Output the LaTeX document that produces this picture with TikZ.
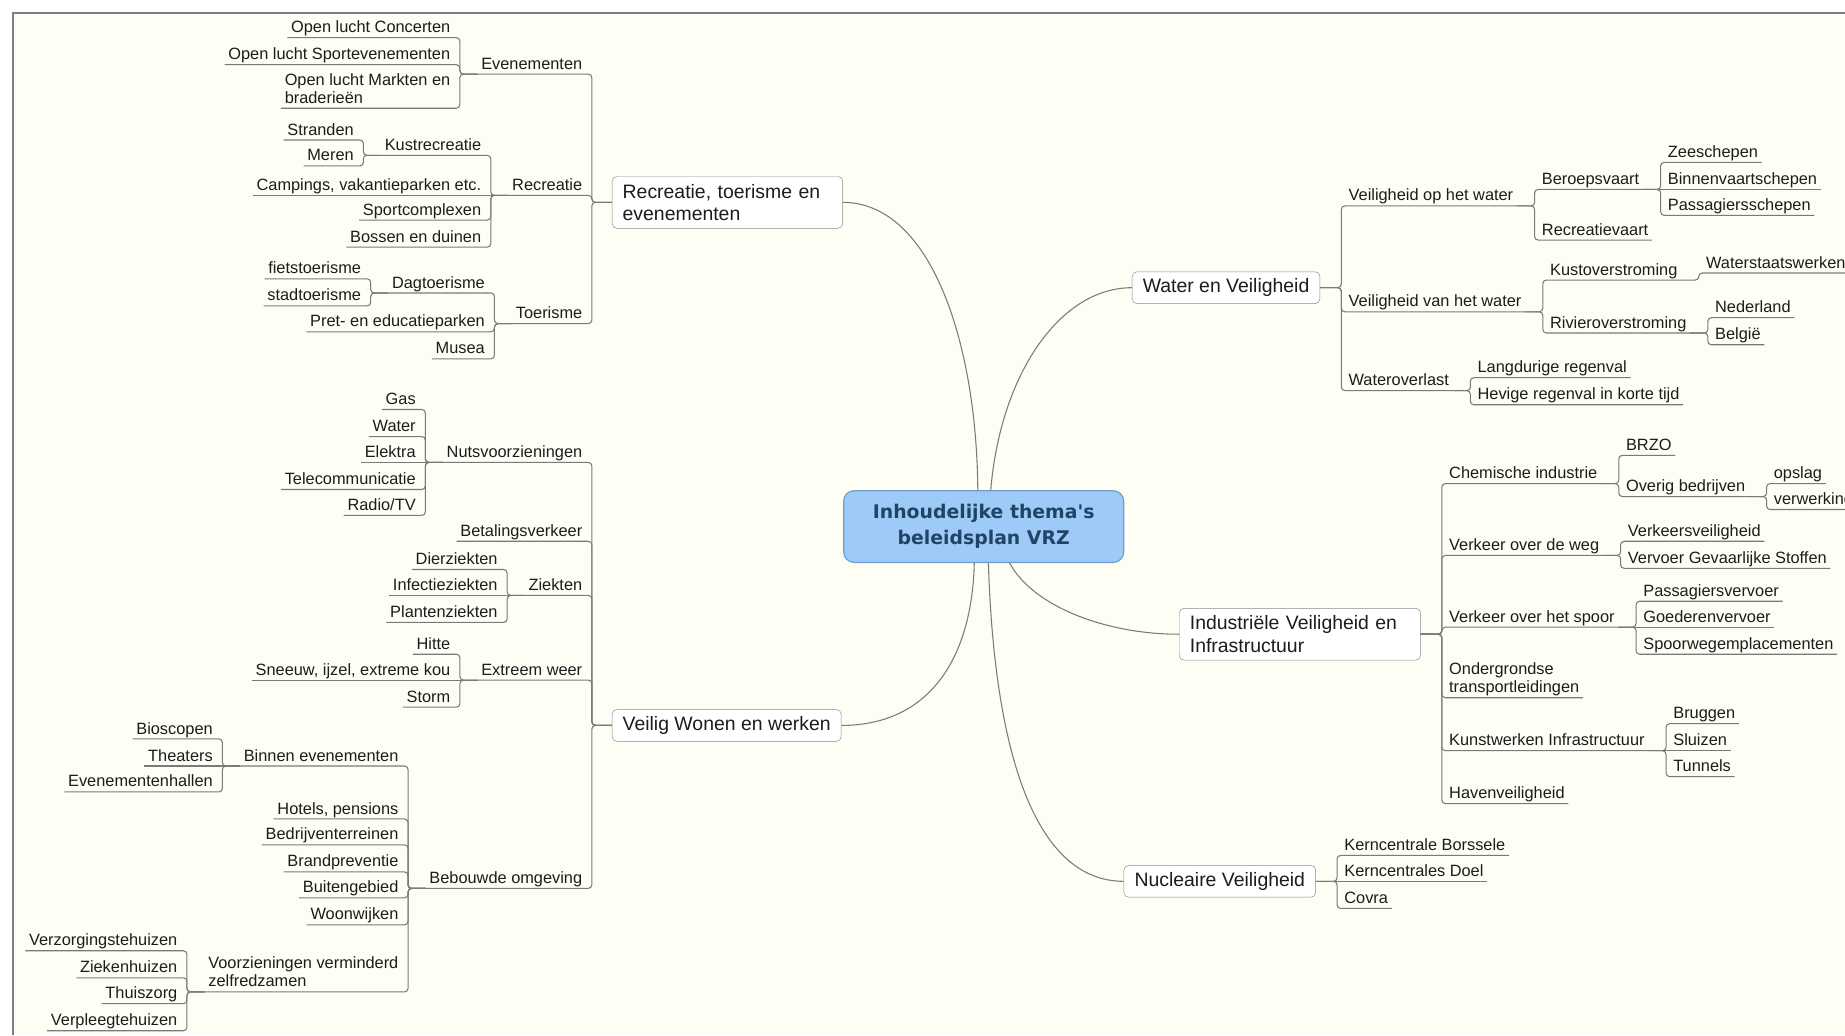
\documentclass[tikz,border=0pt]{standalone}
\usepackage{fontspec}
\setmainfont{Liberation Sans}
\newfontfamily\centrefont{DejaVu Sans}

\definecolor{paper}{HTML}{FEFEF5}
\definecolor{framecol}{HTML}{808080}
\definecolor{linkcol}{HTML}{7A7A7A}
\definecolor{inkcol}{HTML}{1C1C1C}
\definecolor{boxline}{HTML}{8A8A8A}
\definecolor{rootfill}{HTML}{9DCAF6}
\definecolor{rootline}{HTML}{6E9ED0}
\definecolor{rootink}{HTML}{1F4466}

\newcommand\leafsize{\fontsize{13.9}{15.5}\selectfont}
\newcommand\branchsize{\fontsize{16.5}{19}\selectfont}
\newcommand\rootsize{\centrefont\bfseries\fontsize{16}{22}\selectfont}
\newcommand\lastline{\rule[-3pt]{0pt}{3pt}}

\begin{document}
\begin{tikzpicture}[x=1pt,y=-1pt,
  link/.style={draw=linkcol,line width=0.9pt},
  every edge/.style={link,rounded corners=3pt},
  topic/.style={font=\leafsize,text=inkcol,inner xsep=3pt,inner ysep=1pt,text depth=3pt},
  twoline/.style={font=\leafsize,text=inkcol,inner xsep=3pt,inner ysep=1pt,align=left},
  branch/.style={draw=boxline,fill=white,rounded corners=4pt,font=\branchsize,text=inkcol,inner xsep=9pt,inner ysep=4.5pt,minimum height=27pt,align=left},
  root/.style={draw=rootline,fill=rootfill,line width=1pt,rounded corners=9pt,font=\rootsize,text=rootink,minimum width=238pt,minimum height=61pt,align=center},
  lroot/.style={to path={(\tikztostart.west) -- ++(-17pt,0pt) |- (\tikztotarget.south west)}},
  rroot/.style={to path={(\tikztostart.east) -- ++(18pt,0pt) |- (\tikztotarget.south east)}},
  lkid/.style={to path={(\tikztostart.south west) -- ++(-15pt,0pt) |- (\tikztotarget.south west)}},
  rkid/.style={to path={(\tikztostart.south east) -- ++(15pt,0pt) |- (\tikztotarget.south east)}},
  flat/.style={to path={(\tikztostart) -- (\tikztotarget)}}]

\useasboundingbox (0,0) rectangle (1568,880);
\fill[white] (0,0) rectangle (1568,880);
\fill[paper] (11,11) rectangle (1568,880);
\draw[framecol,line width=1.3pt] (11,880) -- (11,11) -- (1568,11);

\node[root] (vrz) at (836,447.5) {Inhoudelijke thema's\\beleidsplan VRZ};

% recreatie
\node[branch,text width=178pt,minimum height=44pt,anchor=west] (recr) at (520,172) {Recreatie, toerisme en\\evenementen};
\node[topic,anchor=south east] (evnm) at ([xshift=-22pt]recr.west |- 0,63) {Evenementen};
\node[topic,anchor=south east] (rcr) at ([xshift=-22pt]recr.west |- 0,166) {Recreatie};
\node[topic,anchor=south east] (trsm) at ([xshift=-22pt]recr.west |- 0,275) {Toerisme};

\node[topic,anchor=south east] (conc) at ([xshift=-20pt]evnm.south west |- 0,32) {Open lucht Concerten};
\node[topic,anchor=south east] (sprt) at ([xshift=-20pt]evnm.south west |- 0,55) {Open lucht Sportevenementen};
\node[twoline,anchor=south east] (mrkt) at ([xshift=-20pt]evnm.south west |- 0,92) {Open lucht Markten en\\braderieën\lastline};

\node[topic,anchor=south east] (kust) at ([xshift=-20pt]rcr.south west |- 0,132) {Kustrecreatie};
\node[topic,anchor=south east] (camp) at ([xshift=-20pt]rcr.south west) {Campings, vakantieparken etc.};
\node[topic,anchor=south east] (spcx) at ([xshift=-20pt]rcr.south west |- 0,187) {Sportcomplexen};
\node[topic,anchor=south east] (bosn) at ([xshift=-20pt]rcr.south west |- 0,210) {Bossen en duinen};
\node[topic,anchor=south east] (strn) at ([xshift=-20pt]kust.south west |- 0,119) {Stranden};
\node[topic,anchor=south east] (mern) at ([xshift=-20pt]kust.south west |- 0,141) {Meren};

\node[topic,anchor=south east] (dagt) at ([xshift=-20pt]trsm.south west |- 0,249) {Dagtoerisme};
\node[topic,anchor=south east] (pret) at ([xshift=-20pt]trsm.south west |- 0,282) {Pret- en educatieparken};
\node[topic,anchor=south east] (musa) at ([xshift=-20pt]trsm.south west |- 0,305) {Musea};
\node[topic,anchor=south east] (fiet) at ([xshift=-20pt]dagt.south west |- 0,237) {fietstoerisme};
\node[topic,anchor=south east] (stad) at ([xshift=-20pt]dagt.south west |- 0,260) {stadtoerisme};

% wonen en werken
\node[branch,anchor=west] (wonen) at (520,616.5) {Veilig Wonen en werken};
\node[topic,anchor=south east] (nuts) at ([xshift=-22pt]wonen.west |- 0,393) {Nutsvoorzieningen};
\node[topic,anchor=south east] (beta) at ([xshift=-22pt]wonen.west |- 0,460) {Betalingsverkeer};
\node[topic,anchor=south east] (ziek) at ([xshift=-22pt]wonen.west |- 0,506) {Ziekten};
\node[topic,anchor=south east] (weer) at ([xshift=-22pt]wonen.west |- 0,578) {Extreem weer};
\node[topic,anchor=south east] (bebo) at ([xshift=-22pt]wonen.west |- 0,755) {Bebouwde omgeving};

\node[topic,anchor=south east] (gas) at ([xshift=-20pt]nuts.south west |- 0,348) {Gas};
\node[topic,anchor=south east] (wtr) at ([xshift=-20pt]nuts.south west |- 0,371) {Water};
\node[topic,anchor=south east] (elek) at ([xshift=-20pt]nuts.south west) {Elektra};
\node[topic,anchor=south east] (tele) at ([xshift=-20pt]nuts.south west |- 0,416) {Telecommunicatie};
\node[topic,anchor=south east] (radio) at ([xshift=-20pt]nuts.south west |- 0,438) {Radio/TV};

\node[topic,anchor=south east] (dier) at ([xshift=-20pt]ziek.south west |- 0,484) {Dierziekten};
\node[topic,anchor=south east] (infe) at ([xshift=-20pt]ziek.south west) {Infectieziekten};
\node[topic,anchor=south east] (plnt) at ([xshift=-20pt]ziek.south west |- 0,529) {Plantenziekten};

\node[topic,anchor=south east] (hitte) at ([xshift=-20pt]weer.south west |- 0,556) {Hitte};
\node[topic,anchor=south east] (snw) at ([xshift=-20pt]weer.south west) {Sneeuw, ijzel, extreme kou};
\node[topic,anchor=south east] (storm) at ([xshift=-20pt]weer.south west |- 0,601) {Storm};

\node[topic,anchor=south east] (binn) at ([xshift=-20pt]bebo.south west |- 0,651) {Binnen evenementen};
\node[topic,anchor=south east] (hotl) at ([xshift=-20pt]bebo.south west |- 0,696) {Hotels, pensions};
\node[topic,anchor=south east] (bedr) at ([xshift=-20pt]bebo.south west |- 0,718) {Bedrijventerreinen};
\node[topic,anchor=south east] (brnd) at ([xshift=-20pt]bebo.south west |- 0,741) {Brandpreventie};
\node[topic,anchor=south east] (buit) at ([xshift=-20pt]bebo.south west |- 0,763) {Buitengebied};
\node[topic,anchor=south east] (wijk) at ([xshift=-20pt]bebo.south west |- 0,786) {Woonwijken};
\node[twoline,anchor=south east] (zelf) at ([xshift=-20pt]bebo.south west |- 0,843) {Voorzieningen verminderd\\zelfredzamen\lastline};

\node[topic,anchor=south east] (bios) at ([xshift=-20pt]binn.south west |- 0,628) {Bioscopen};
\node[topic,anchor=south east] (thtr) at ([xshift=-20pt]binn.south west) {Theaters};
\node[topic,anchor=south east] (hall) at ([xshift=-20pt]binn.south west |- 0,673) {Evenementenhallen};

\node[topic,anchor=south east] (vzth) at ([xshift=-20pt]zelf.south west |- 0,808) {Verzorgingstehuizen};
\node[topic,anchor=south east] (zkhz) at ([xshift=-20pt]zelf.south west |- 0,831) {Ziekenhuizen};
\node[topic,anchor=south east] (thsz) at ([xshift=-20pt]zelf.south west |- 0,853) {Thuiszorg};
\node[topic,anchor=south east] (vpth) at ([xshift=-20pt]zelf.south west |- 0,876) {Verpleegtehuizen};

% water
\node[branch,anchor=west] (water) at (962,244.5) {Water en Veiligheid};
\node[topic,anchor=south west] (vopw) at ([xshift=21pt]water.east |- 0,175) {Veiligheid op het water};
\node[topic,anchor=south west] (vvhw) at ([xshift=21pt]water.east |- 0,265) {Veiligheid van het water};
\node[topic,anchor=south west] (wovl) at ([xshift=21pt]water.east |- 0,332) {Wateroverlast};

\node[topic,anchor=south west] (brps) at ([xshift=18pt]vopw.south east |- 0,161) {Beroepsvaart};
\node[topic,anchor=south west] (recv) at ([xshift=18pt]vopw.south east |- 0,204) {Recreatievaart};
\node[topic,anchor=south west] (zee) at ([xshift=18pt]brps.south east |- 0,138) {Zeeschepen};
\node[topic,anchor=south west] (binv) at ([xshift=18pt]brps.south east) {Binnenvaartschepen};
\node[topic,anchor=south west] (pasg) at ([xshift=18pt]brps.south east |- 0,183) {Passagiersschepen};

\node[topic,anchor=south west] (kovs) at ([xshift=18pt]vvhw.south east |- 0,238) {Kustoverstroming};
\node[topic,anchor=south west] (rovs) at ([xshift=18pt]vvhw.south east |- 0,283) {Rivieroverstroming};
\node[topic,anchor=south west] (wsw) at ([xshift=18pt]kovs.south east |- 0,232) {Waterstaatswerken};
\node[topic,anchor=south west] (nedl) at ([xshift=18pt]rovs.south east |- 0,270) {Nederland};
\node[topic,anchor=south west] (belg) at ([xshift=18pt]rovs.south east |- 0,293) {België};

\node[topic,anchor=south west] (lang) at ([xshift=18pt]wovl.south east |- 0,321) {Langdurige regenval};
\node[topic,anchor=south west] (hevg) at ([xshift=18pt]wovl.south east |- 0,344) {Hevige regenval in korte tijd};

% industrie
\node[branch,text width=187pt,minimum height=44pt,anchor=west] (ind) at (1002,539) {Industriële Veiligheid en\\Infrastructuur};
\node[topic,anchor=south west] (chem) at ([xshift=21pt]ind.east |- 0,411) {Chemische industrie};
\node[topic,anchor=south west] (vweg) at ([xshift=21pt]ind.east |- 0,472) {Verkeer over de weg};
\node[topic,anchor=south west] (vspr) at ([xshift=21pt]ind.east |- 0,533) {Verkeer over het spoor};
\node[twoline,anchor=south west] (ondg) at ([xshift=21pt]ind.east |- 0,593) {Ondergrondse\\transportleidingen\lastline};
\node[topic,anchor=south west] (kunst) at ([xshift=21pt]ind.east |- 0,638) {Kunstwerken Infrastructuur};
\node[topic,anchor=south west] (havn) at ([xshift=21pt]ind.east |- 0,683) {Havenveiligheid};

\node[topic,anchor=south west] (brzo) at ([xshift=18pt]chem.south east |- 0,387) {BRZO};
\node[topic,anchor=south west] (ovrg) at ([xshift=18pt]chem.south east |- 0,422) {Overig bedrijven};
\node[topic,anchor=south west] (opsl) at ([xshift=18pt]ovrg.south east |- 0,411) {opslag};
\node[topic,anchor=south west] (verw) at ([xshift=18pt]ovrg.south east |- 0,433) {verwerking};

\node[topic,anchor=south west] (vkvl) at ([xshift=18pt]vweg.south east |- 0,460) {Verkeersveiligheid};
\node[topic,anchor=south west] (vgs) at ([xshift=18pt]vweg.south east |- 0,483) {Vervoer Gevaarlijke Stoffen};

\node[topic,anchor=south west] (pasv) at ([xshift=18pt]vspr.south east |- 0,511) {Passagiersvervoer};
\node[topic,anchor=south west] (goed) at ([xshift=18pt]vspr.south east) {Goederenvervoer};
\node[topic,anchor=south west] (spor) at ([xshift=18pt]vspr.south east |- 0,556) {Spoorwegemplacementen};

\node[topic,anchor=south west] (brug) at ([xshift=18pt]kunst.south east |- 0,615) {Bruggen};
\node[topic,anchor=south west] (sluis) at ([xshift=18pt]kunst.south east) {Sluizen};
\node[topic,anchor=south west] (tunn) at ([xshift=18pt]kunst.south east |- 0,660) {Tunnels};

% nucleair
\node[branch,anchor=west] (nuc) at (955,749) {Nucleaire Veiligheid};
\node[topic,anchor=south west] (borss) at ([xshift=21pt]nuc.east |- 0,727) {Kerncentrale Borssele};
\node[topic,anchor=south west] (doel) at ([xshift=21pt]nuc.east) {Kerncentrales Doel};
\node[topic,anchor=south west] (covra) at ([xshift=21pt]nuc.east |- 0,772) {Covra};

\draw[link] ([xshift=-5pt]vrz.north) .. controls +(-1,-127) and +(74,0) .. (recr.east);
\draw[link] ([xshift=6pt]vrz.north) .. controls +(8,-97) and +(-62,0) .. (water.west);
\draw[link] ([xshift=-8pt]vrz.south) .. controls +(-2,82) and +(74,0) .. (wonen.east);
\draw[link] ([xshift=22pt]vrz.south) .. controls +(20,37) and +(-62,0) .. (ind.west);
\draw[link] ([xshift=4pt]vrz.south) .. controls +(5,162) and +(-75,0) .. (nuc.west);

\path (recr) edge[lroot] (evnm) edge[lroot] (rcr) edge[lroot] (trsm)
      (evnm) edge[lkid] (conc) edge[lkid] (sprt) edge[lkid] (mrkt)
      (rcr) edge[lkid] (kust) edge[lkid] (spcx) edge[lkid] (bosn)
      (rcr.south west) edge[flat] (camp.south west)
      (kust) edge[lkid] (strn) edge[lkid] (mern)
      (trsm) edge[lkid] (dagt) edge[lkid] (pret) edge[lkid] (musa)
      (dagt) edge[lkid] (fiet) edge[lkid] (stad);

\path (wonen) edge[lroot] (nuts) edge[lroot] (beta) edge[lroot] (ziek) edge[lroot] (weer) edge[lroot] (bebo)
      (nuts) edge[lkid] (gas) edge[lkid] (wtr) edge[lkid] (tele) edge[lkid] (radio)
      (nuts.south west) edge[flat] (elek.south west)
      (ziek) edge[lkid] (dier) edge[lkid] (plnt)
      (ziek.south west) edge[flat] (infe.south west)
      (weer) edge[lkid] (hitte) edge[lkid] (storm)
      (weer.south west) edge[flat] (snw.south west)
      (bebo) edge[lkid] (binn) edge[lkid] (hotl) edge[lkid] (bedr) edge[lkid] (brnd)
             edge[lkid] (buit) edge[lkid] (wijk) edge[lkid] (zelf)
      (binn) edge[lkid] (bios) edge[lkid] (hall)
      (binn.south west) edge[flat] (thtr.south west)
      (zelf) edge[lkid] (vzth) edge[lkid] (zkhz) edge[lkid] (thsz) edge[lkid] (vpth);

\path (water) edge[rroot] (vopw) edge[rroot] (vvhw) edge[rroot] (wovl)
      (vopw) edge[rkid] (brps) edge[rkid] (recv)
      (brps) edge[rkid] (zee) edge[rkid] (pasg)
      (brps.south east) edge[flat] (binv.south east)
      (vvhw) edge[rkid] (kovs) edge[rkid] (rovs)
      (kovs) edge[rkid] (wsw)
      (rovs) edge[rkid] (nedl) edge[rkid] (belg)
      (wovl) edge[rkid] (lang) edge[rkid] (hevg);

\path (ind) edge[rroot] (chem) edge[rroot] (vweg) edge[rroot] (vspr)
            edge[rroot] (ondg) edge[rroot] (kunst) edge[rroot] (havn)
      (chem) edge[rkid] (brzo) edge[rkid] (ovrg)
      (ovrg) edge[rkid] (opsl) edge[rkid] (verw)
      (vweg) edge[rkid] (vkvl) edge[rkid] (vgs)
      (vspr) edge[rkid] (pasv) edge[rkid] (spor)
      (vspr.south east) edge[flat] (goed.south east)
      (kunst) edge[rkid] (brug) edge[rkid] (tunn)
      (kunst.south east) edge[flat] (sluis.south east);

\path (nuc) edge[rroot] (borss) edge[rroot] (covra)
      (nuc.east) edge[flat] (doel.south east);
\end{tikzpicture}
\end{document}
